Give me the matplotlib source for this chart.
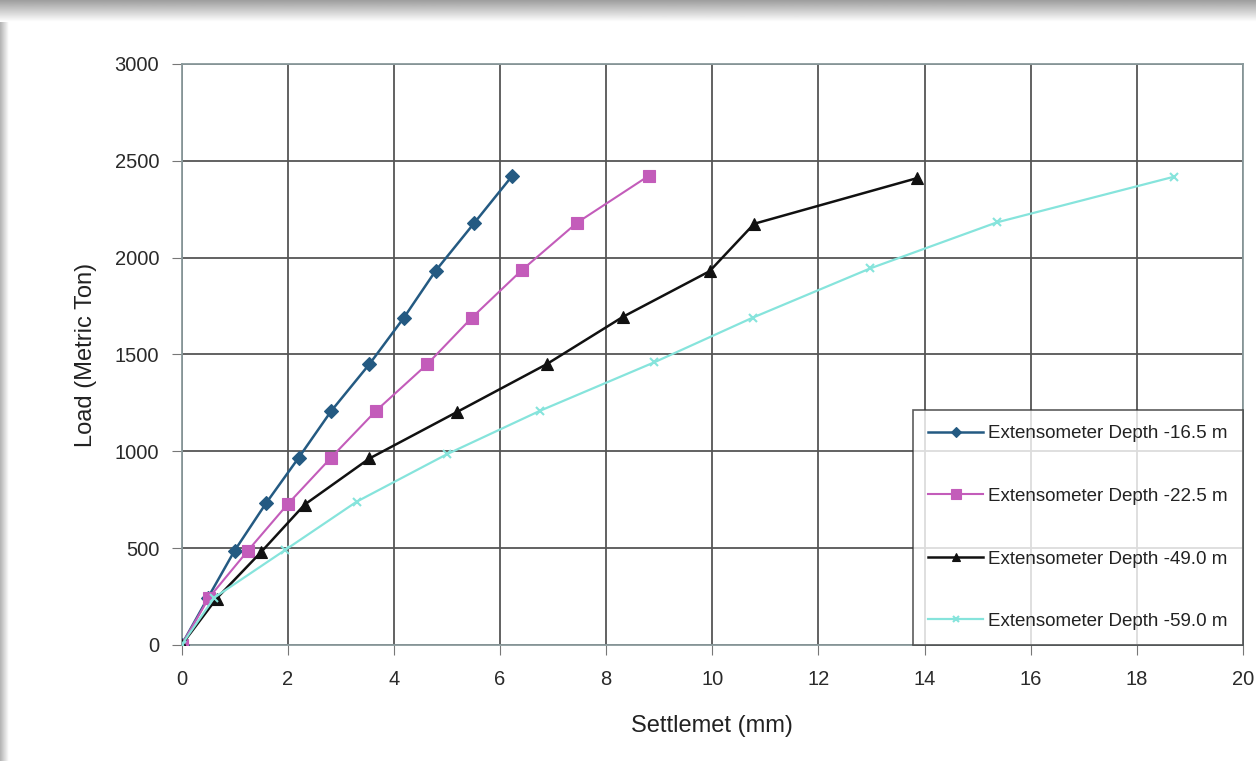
import matplotlib
matplotlib.use("Agg")
import matplotlib.pyplot as plt
import numpy as np

# ---- data ----
s1_x = [0, 0.50, 1.00, 1.59, 2.21, 2.82, 3.54, 4.19, 4.79, 5.51, 6.23]
s1_y = [0, 245, 487, 731, 968, 1208, 1450, 1690, 1933, 2177, 2422]

s2_x = [0, 0.52, 1.25, 2.00, 2.82, 3.66, 4.63, 5.47, 6.41, 7.45, 8.80]
s2_y = [0, 245, 487, 727, 968, 1208, 1450, 1690, 1935, 2180, 2422]

s3_x = [0, 0.66, 1.50, 2.32, 3.54, 5.19, 6.88, 8.32, 9.95, 10.79, 13.85]
s3_y = [0, 240, 480, 725, 963, 1203, 1450, 1695, 1930, 2175, 2410]

s4_x = [0, 0.62, 1.95, 3.30, 5.00, 6.76, 8.91, 10.76, 12.98, 15.36, 18.70]
s4_y = [0, 245, 490, 740, 985, 1210, 1460, 1690, 1945, 2182, 2418]

labels = ["Extensometer Depth -16.5 m", "Extensometer Depth -22.5 m",
          "Extensometer Depth -49.0 m", "Extensometer Depth -59.0 m"]
colors = ["#245A82", "#C35CBA", "#111111", "#86E4DC"]
markers = ["D", "s", "^", "x"]
msizes = [7, 9, 8, 6]

x_ticks = list(range(0, 21, 2))
y_ticks = list(range(0, 3001, 500))

plt.rcParams['font.family'] = ['Liberation Sans', 'DejaVu Sans']

W, H = 1256, 761
fig = plt.figure(figsize=(W / 100, H / 100), dpi=100, facecolor="white")

# gray frame (shadow) at top and left
grad = np.linspace(0.62, 1.0, 50).reshape(-1, 1)
axt = fig.add_axes([0, 1 - 22 / H, 1, 22 / H])
axt.imshow(grad, aspect="auto", cmap="gray", vmin=0, vmax=1, extent=[0, 1, 0, 1])
axt.axis("off")
gradl = np.linspace(0.70, 1.0, 30).reshape(1, -1)
axl = fig.add_axes([0, 0, 9 / W, 1 - 22 / H])
axl.imshow(gradl, aspect="auto", cmap="gray", vmin=0, vmax=1, extent=[0, 1, 0, 1])
axl.axis("off")

ax = fig.add_axes([181.5 / W, 1 - 645 / H, (1243 - 181.5) / W, (645 - 64) / H])

series = [(s1_x, s1_y), (s2_x, s2_y), (s3_x, s3_y), (s4_x, s4_y)]
lws = [1.8, 1.5, 1.8, 1.6]
for (xs, ys), lab, c, m, ms, lw in zip(series, labels, colors, markers, msizes, lws):
    ax.plot(xs, ys, color=c, marker=m, markersize=ms, lw=lw, label=lab,
            markeredgecolor=c, markeredgewidth=1.5 if m == "x" else 0.8, zorder=3)

ax.set_xlim(0, 20)
ax.set_ylim(0, 3000)
ax.set_xticks(x_ticks)
ax.set_yticks(y_ticks)
ax.grid(True, color="#555555", lw=1.3, zorder=0)
ax.set_axisbelow(True)
for sp in ax.spines.values():
    sp.set_color("#8a9a9c")
    sp.set_linewidth(1.3)
ax.tick_params(axis="both", direction="out", length=7, color="#777777",
               labelsize=14.5, labelcolor="#2a2a2a")
ax.tick_params(axis="x", pad=11)
ax.tick_params(axis="y", pad=9)

ax.set_xlabel("Settlemet (mm)", fontsize=17, color="#222222", labelpad=19)
ax.set_ylabel("Load (Metric Ton)", fontsize=17, color="#222222", labelpad=13)

leg = ax.legend(loc="lower right", bbox_to_anchor=(1.0, 0.0), frameon=True,
                fancybox=False, edgecolor="#333333", fontsize=13.5,
                labelspacing=2.42, handlelength=2.9, handletextpad=0.3,
                borderpad=0.8, borderaxespad=0.0, markerscale=0.8)
leg.get_frame().set_linewidth(1.2)
for t in leg.get_texts():
    t.set_color("#222222")

fig.savefig("out.png", dpi=100, facecolor="white")
